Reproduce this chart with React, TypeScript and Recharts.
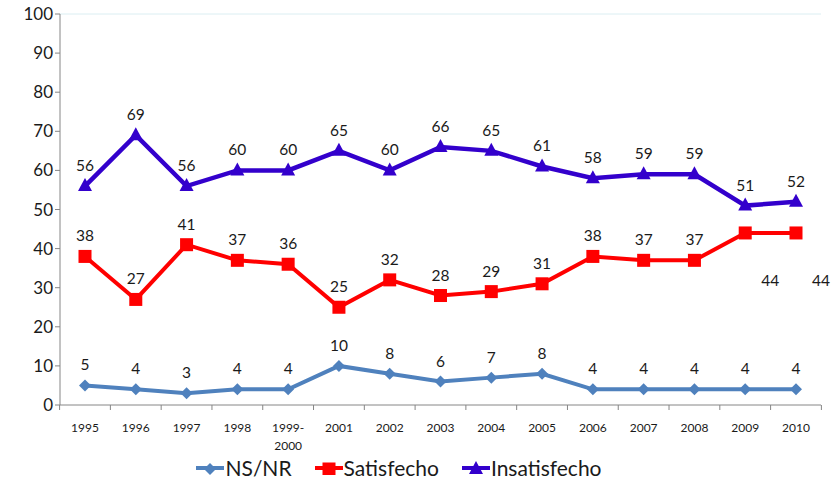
import { LineChart, Line, XAxis, YAxis, ReferenceLine, Legend, LabelList } from "recharts";

const years = ["1995", "1996", "1997", "1998", "1999-2000", "2001", "2002", "2003", "2004", "2005", "2006", "2007", "2008", "2009", "2010"];
const nsnr = [5, 4, 3, 4, 4, 10, 8, 6, 7, 8, 4, 4, 4, 4, 4];
const satisfecho = [38, 27, 41, 37, 36, 25, 32, 28, 29, 31, 38, 37, 37, 44, 44];
const insatisfecho = [56, 69, 56, 60, 60, 65, 60, 66, 65, 61, 58, 59, 59, 51, 52];
const yTicks = [0, 10, 20, 30, 40, 50, 60, 70, 80, 90, 100];

const FONT = "Lato, 'Open Sans', sans-serif";
const AXIS = "#868686";
const BLUE = "#4F81BD";
const RED = "#FF0000";
const PURPLE = "#3300CC";

const data = years.map((year, i) => ({
  year,
  nsnr: nsnr[i],
  satisfecho: satisfecho[i],
  insatisfecho: insatisfecho[i],
}));

const Diamond = ({ cx, cy }: any) =>
  cx == null ? null : <path d={`M${cx},${cy - 6}L${cx + 6},${cy}L${cx},${cy + 6}L${cx - 6},${cy}Z`} fill={BLUE} />;
const Square = ({ cx, cy }: any) =>
  cx == null ? null : <rect x={cx - 6.5} y={cy - 6.5} width={13} height={13} fill={RED} />;
const Triangle = ({ cx, cy }: any) =>
  cx == null ? null : <path d={`M${cx},${cy - 8}L${cx + 7},${cy + 5}L${cx - 7},${cy + 5}Z`} fill={PURPLE} />;

// the last two "Satisfecho" labels sit below-right of their points in the original
const makeLabel = (shifted: boolean) => (props: any) => {
  const { x, y, value, index } = props;
  const off = shifted && index >= 13;
  return (
    <text
      x={off ? x + 25 : x}
      y={off ? y + 47 : y - 21}
      textAnchor="middle"
      dominantBaseline="central"
      fontSize={15.5}
      fontFamily={FONT}
      fill="#1a1a1a"
    >
      {value}
    </text>
  );
};

const XTick = ({ x, y, payload, index }: any) => {
  const half = 25.4;
  const lines = String(payload.value).includes("-")
    ? [payload.value.split("-")[0] + "-", payload.value.split("-")[1]]
    : [payload.value];
  return (
    <g>
      <line x1={x - half} y1={y - 8} x2={x - half} y2={y - 3} stroke={AXIS} />
      {index === years.length - 1 && <line x1={x + half} y1={y - 8} x2={x + half} y2={y - 3} stroke={AXIS} />}
      {lines.map((t: string, i: number) => (
        <text key={i} x={x} y={y + 19 + i * 18} textAnchor="middle" fontSize={12} fontFamily={FONT} fill="#1a1a1a">
          {t}
        </text>
      ))}
    </g>
  );
};

const legendItems = [
  { name: "NS/NR", color: BLUE, Shape: Diamond },
  { name: "Satisfecho", color: RED, Shape: Square },
  { name: "Insatisfecho", color: PURPLE, Shape: Triangle },
];

const LegendContent = () => (
  <div style={{ display: "flex", justifyContent: "center", gap: 22, fontFamily: FONT, fontSize: 21, color: "#1a1a1a", paddingRight: 24 }}>
    {legendItems.map(({ name, color, Shape }) => (
      <div key={name} style={{ display: "flex", alignItems: "center" }}>
        <svg width={30} height={14}>
          <line x1={1} y1={7} x2={29} y2={7} stroke={color} strokeWidth={4} />
          <Shape cx={15} cy={8} />
        </svg>
        <span>{name}</span>
      </div>
    ))}
  </div>
);

export default function App() {
  return (
    <div style={{ position: "absolute", left: 0, top: 0, background: "#fff" }}>
      <LineChart width={831} height={483} data={data} margin={{ top: 14, right: 10, left: 0, bottom: 0 }}>
        <XAxis
          dataKey="year"
          stroke={AXIS}
          tickLine={false}
          tick={<XTick />}
          height={50}
          interval={0}
          padding={{ left: 25, right: 25 }}
        />
        <YAxis
          domain={[0, 100]}
          ticks={yTicks}
          stroke={AXIS}
          tickSize={5}
          width={60}
          tick={{ fontSize: 17, fontFamily: FONT, fill: "#1a1a1a" }}
          interval={0}
        />
        <YAxis yAxisId="r" orientation="right" width={0} domain={[0, 100]} tick={false} tickLine={false} axisLine={{ stroke: "#dbe9ee" }} />
        <ReferenceLine y={100} stroke="#dbeef2" />
        <Legend content={<LegendContent />} verticalAlign="bottom" height={28} />
        <Line dataKey="nsnr" name="NS/NR" stroke={BLUE} strokeWidth={4} dot={<Diamond />} activeDot={false} isAnimationActive={false}>
          <LabelList dataKey="nsnr" content={makeLabel(false)} />
        </Line>
        <Line dataKey="satisfecho" name="Satisfecho" stroke={RED} strokeWidth={4} dot={<Square />} activeDot={false} isAnimationActive={false}>
          <LabelList dataKey="satisfecho" content={makeLabel(true)} />
        </Line>
        <Line dataKey="insatisfecho" name="Insatisfecho" stroke={PURPLE} strokeWidth={4.5} dot={<Triangle />} activeDot={false} isAnimationActive={false}>
          <LabelList dataKey="insatisfecho" content={makeLabel(false)} />
        </Line>
      </LineChart>
    </div>
  );
}
